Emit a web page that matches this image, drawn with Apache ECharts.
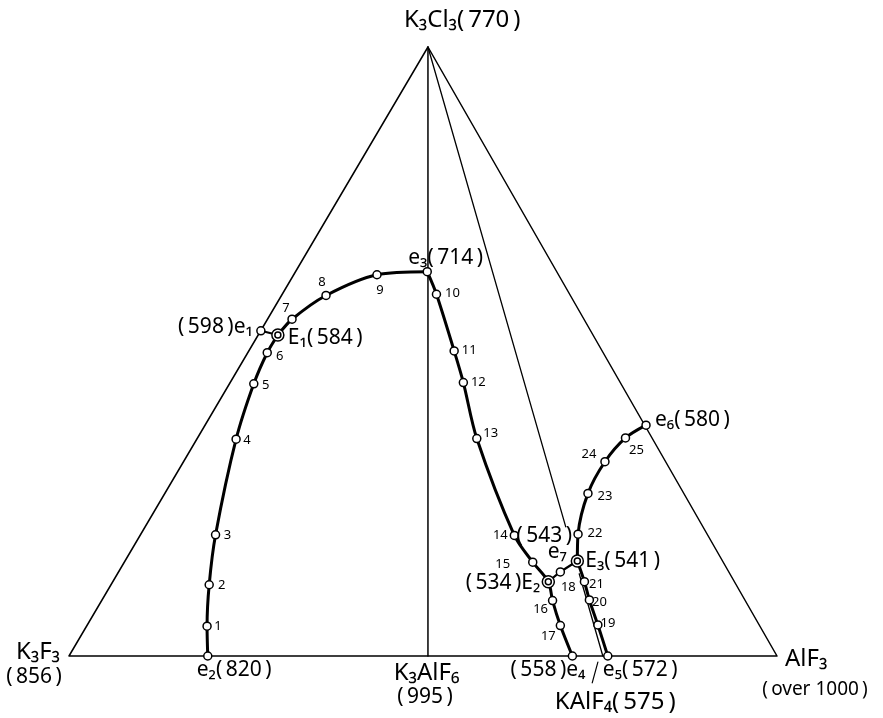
<!DOCTYPE html>
<html><head><meta charset="utf-8">
<script src="https://cdn.jsdelivr.net/npm/echarts@6/dist/echarts.min.js"></script>
<style>html,body{margin:0;padding:0;background:#fff}#c{width:883px;height:718px}</style>
</head><body><div id="c"></div>
<script>
// ---- DATA (positions in % of triangle base / height) ----
const vertexNames = ['K3F3', 'K3Cl3', 'AlF3', 'K3AlF6', 'KAlF4'];
const vertexX = [0, 50.7, 100, 50.7, 75.4];
const vertexY = [0, 100, 0, 0, 0];
const vertexTemps = ['856', '770', 'over 1000', '995', '575'];

const nodeNames = ['e1','e2','e3','e4','e5','e6','E1','E2','E3',
  '1','2','3','4','5','6','7','8','9','10','11','12','13','14','15','16','17','18','19','20','21','22','23','24','25'];
const nodeX = [27.1,19.6,50.6,71.1,76.1,81.5,29.5,67.7,71.8,
  19.5,19.8,20.7,23.6,26.1,28.0,31.5,36.3,43.5,51.9,54.4,55.7,57.6,62.9,65.5,68.3,69.4,69.4,74.7,73.5,72.8,71.9,73.3,75.7,78.6];
const nodeY = [53.4,0,63.1,0,0,37.9,52.7,12.2,15.6,
  4.9,11.7,19.9,35.6,44.7,49.8,55.3,59.2,62.6,59.4,50.1,44.9,35.7,19.8,15.4,9.1,5.0,13.8,5.1,9.2,12.2,20.0,26.7,31.9,35.8];

const pointNames = ['e1','e2','e3','e4','e5','e6','e7','E1','E2','E3'];
const pointTemps = ['598','820','714','558','572','580','543','584','534','541'];

const curveA = ['e2','1','2','3','4','5','6','E1'];
const curveB = ['E1','7','8','9','e3'];
const curveC = ['e3','10','11','12','13','14','15','E2','16','17','e4'];
const curveD = ['E2','18','E3'];
const curveE = ['E3','21','20','19','e5'];
const curveF = ['E3','22','23','24','25','e6'];
const curveG = ['e1','E1'];

// ---- LAYOUT ----
const FONT = '"Noto Sans", "DejaVu Sans", sans-serif';
const numOffset = {'1':[11,0],'2':[12.5,1],'3':[12,0],'4':[11,1],'5':[12,2],'6':[12.5,3.5],'7':[-6,-11],'8':[-4,-13],
  '9':[3,16],'10':[16,-1],'11':[15,-1],'12':[15,0],'13':[14,-5],'14':[-14,0],'15':[-30,2],'16':[-12,9],'17':[-12,11],
  '18':[8,15],'19':[10,-2],'20':[10,2],'21':[12,3],'22':[17,-1],'23':[17,3],'24':[-16,-7],'25':[11,12]};

const SUB = '₀₁₂₃₄₅₆₇₈₉';
const sub = s => s.replace(/\d/g, d => SUB[+d]);
const paren = t => '(\u2009' + t + '\u2009)';

const pt = n => [nodeX[nodeNames.indexOf(n)], nodeY[nodeNames.indexOf(n)]];
const vpt = n => [vertexX[vertexNames.indexOf(n)], vertexY[vertexNames.indexOf(n)]];
const temp = n => pointTemps[pointNames.indexOf(n)];
const vtemp = n => vertexTemps[vertexNames.indexOf(n)];

function lineSeries(data, width, smooth) {
  return {type:'line', data, symbol:'none', smooth: smooth || false, clip:false, silent:true,
    lineStyle:{color:'#000', width, cap:'round', join:'round', opacity:1}, z:2};
}

const series = [];
// triangle & joins
series.push(lineSeries([vpt('K3F3'), vpt('K3Cl3'), vpt('AlF3'), vpt('K3F3')], 1.5));
series.push(lineSeries([vpt('K3Cl3'), vpt('K3AlF6')], 1.5));
// apex -> KAlF4 join, interrupted near E3
const a = vpt('K3Cl3'), k = vpt('KAlF4');
const onJoin = y => [k[0] + (a[0]-k[0]) * (y - k[1]) / (a[1]-k[1]), y];
series.push(lineSeries([a, onJoin(21.2)], 1.3));
series.push(lineSeries([onJoin(13.5), k], 1.3));
// pointer under KAlF4
series.push(lineSeries([[74.7,-1.0],[73.9,-4.4]], 1.2));

// liquidus valleys
[[curveA,3],[curveB,3],[curveC,3],[curveE,3],[curveF,3]].forEach(([c,w]) => series.push(lineSeries(c.map(pt), w, 0.3)));
series.push(lineSeries(curveD.map(pt), 2.2, 0.2));
series.push(lineSeries(curveG.map(pt), 2));

// open circle markers
const MARK = {color:'#fff', borderColor:'#000', borderWidth:1.5, opacity:1};
const openNames = nodeNames.filter(n => !/^E/.test(n));
series.push({type:'scatter', data: openNames.map(pt), symbol:'circle', symbolSize:8, silent:true, z:5, itemStyle:MARK});
const ternNames = ['E1','E2','E3'];
series.push({type:'scatter', data: ternNames.map(pt), symbol:'circle', symbolSize:12, silent:true, z:5, itemStyle:MARK});
series.push({type:'scatter', data: ternNames.map(pt), symbol:'circle', symbolSize:6, silent:true, z:6, itemStyle:MARK});

// labels
const labels = [];
function addLabel(pos, text, dx, dy, align, size) {
  labels.push({value: pos, label:{show:true, formatter:text, position:'inside', align, verticalAlign:'middle',
    offset:[dx,dy], fontSize:size, fontFamily:FONT, color:'#000', opacity:1, textBorderWidth:0}});
}
Object.keys(numOffset).forEach(n => addLabel(pt(n), n, numOffset[n][0], numOffset[n][1], 'center', 13));

addLabel(pt('e1'), paren(temp('e1')) + 'e₁', -8, -4, 'right', 21);
addLabel(pt('E1'), 'E₁' + paren(temp('E1')), 10, 3, 'left', 21);
addLabel(pt('e2'), 'e₂' + paren(temp('e2')), -11, 14, 'left', 21);
addLabel(pt('e3'), 'e₃' + paren(temp('e3')), -19, -14, 'left', 21);
addLabel(pt('e4'), paren(temp('e4')) + 'e₄', 13, 14, 'right', 21);
addLabel(pt('e5'), 'e₅' + paren(temp('e5')), -5, 14, 'left', 21);
addLabel(pt('e6'), 'e₆' + paren(temp('e6')), 9, -5, 'left', 21);
addLabel(pt('E2'), paren(temp('E2')) + 'E₂', -8, 1, 'right', 21);
addLabel(pt('E3'), 'E₃' + paren(temp('E3')), 8, 0, 'left', 21);
addLabel(pt('E3'), 'e₇', -20, -9, 'center', 21);
addLabel(pt('E3'), paren(temp('e7')), -33, -25, 'center', 21);

addLabel(vpt('K3Cl3'), sub('K3Cl3') + paren(vtemp('K3Cl3')), -24, -27, 'left', 24);
addLabel(vpt('K3F3'), sub('K3F3'), -9, -4, 'right', 24);
addLabel(vpt('K3F3'), paren(vtemp('K3F3')), -35, 21, 'center', 21);
addLabel(vpt('K3AlF6'), sub('K3AlF6'), -1.5, 17, 'center', 24);
addLabel(vpt('K3AlF6'), paren(vtemp('K3AlF6')), -3, 41, 'center', 21);
addLabel(vpt('KAlF4'), sub('KAlF4') + paren(vtemp('KAlF4')), -48, 46, 'left', 24);
addLabel(vpt('AlF3'), sub('AlF3'), 8, 3, 'left', 24);
addLabel(vpt('AlF3'), paren(vtemp('AlF3')), 38, 34, 'center', 19);

series.push({type:'scatter', data: labels, symbolSize:0, silent:true, z:10, clip:false, itemStyle:{opacity:1}});

const chart = echarts.init(document.getElementById('c'));
chart.setOption({
  animation:false,
  backgroundColor:'#fff',
  grid:{left:69, right:106, top:47, bottom:62},
  xAxis:{type:'value', min:0, max:100, show:false},
  yAxis:{type:'value', min:0, max:100, show:false},
  series
});
</script></body></html>
